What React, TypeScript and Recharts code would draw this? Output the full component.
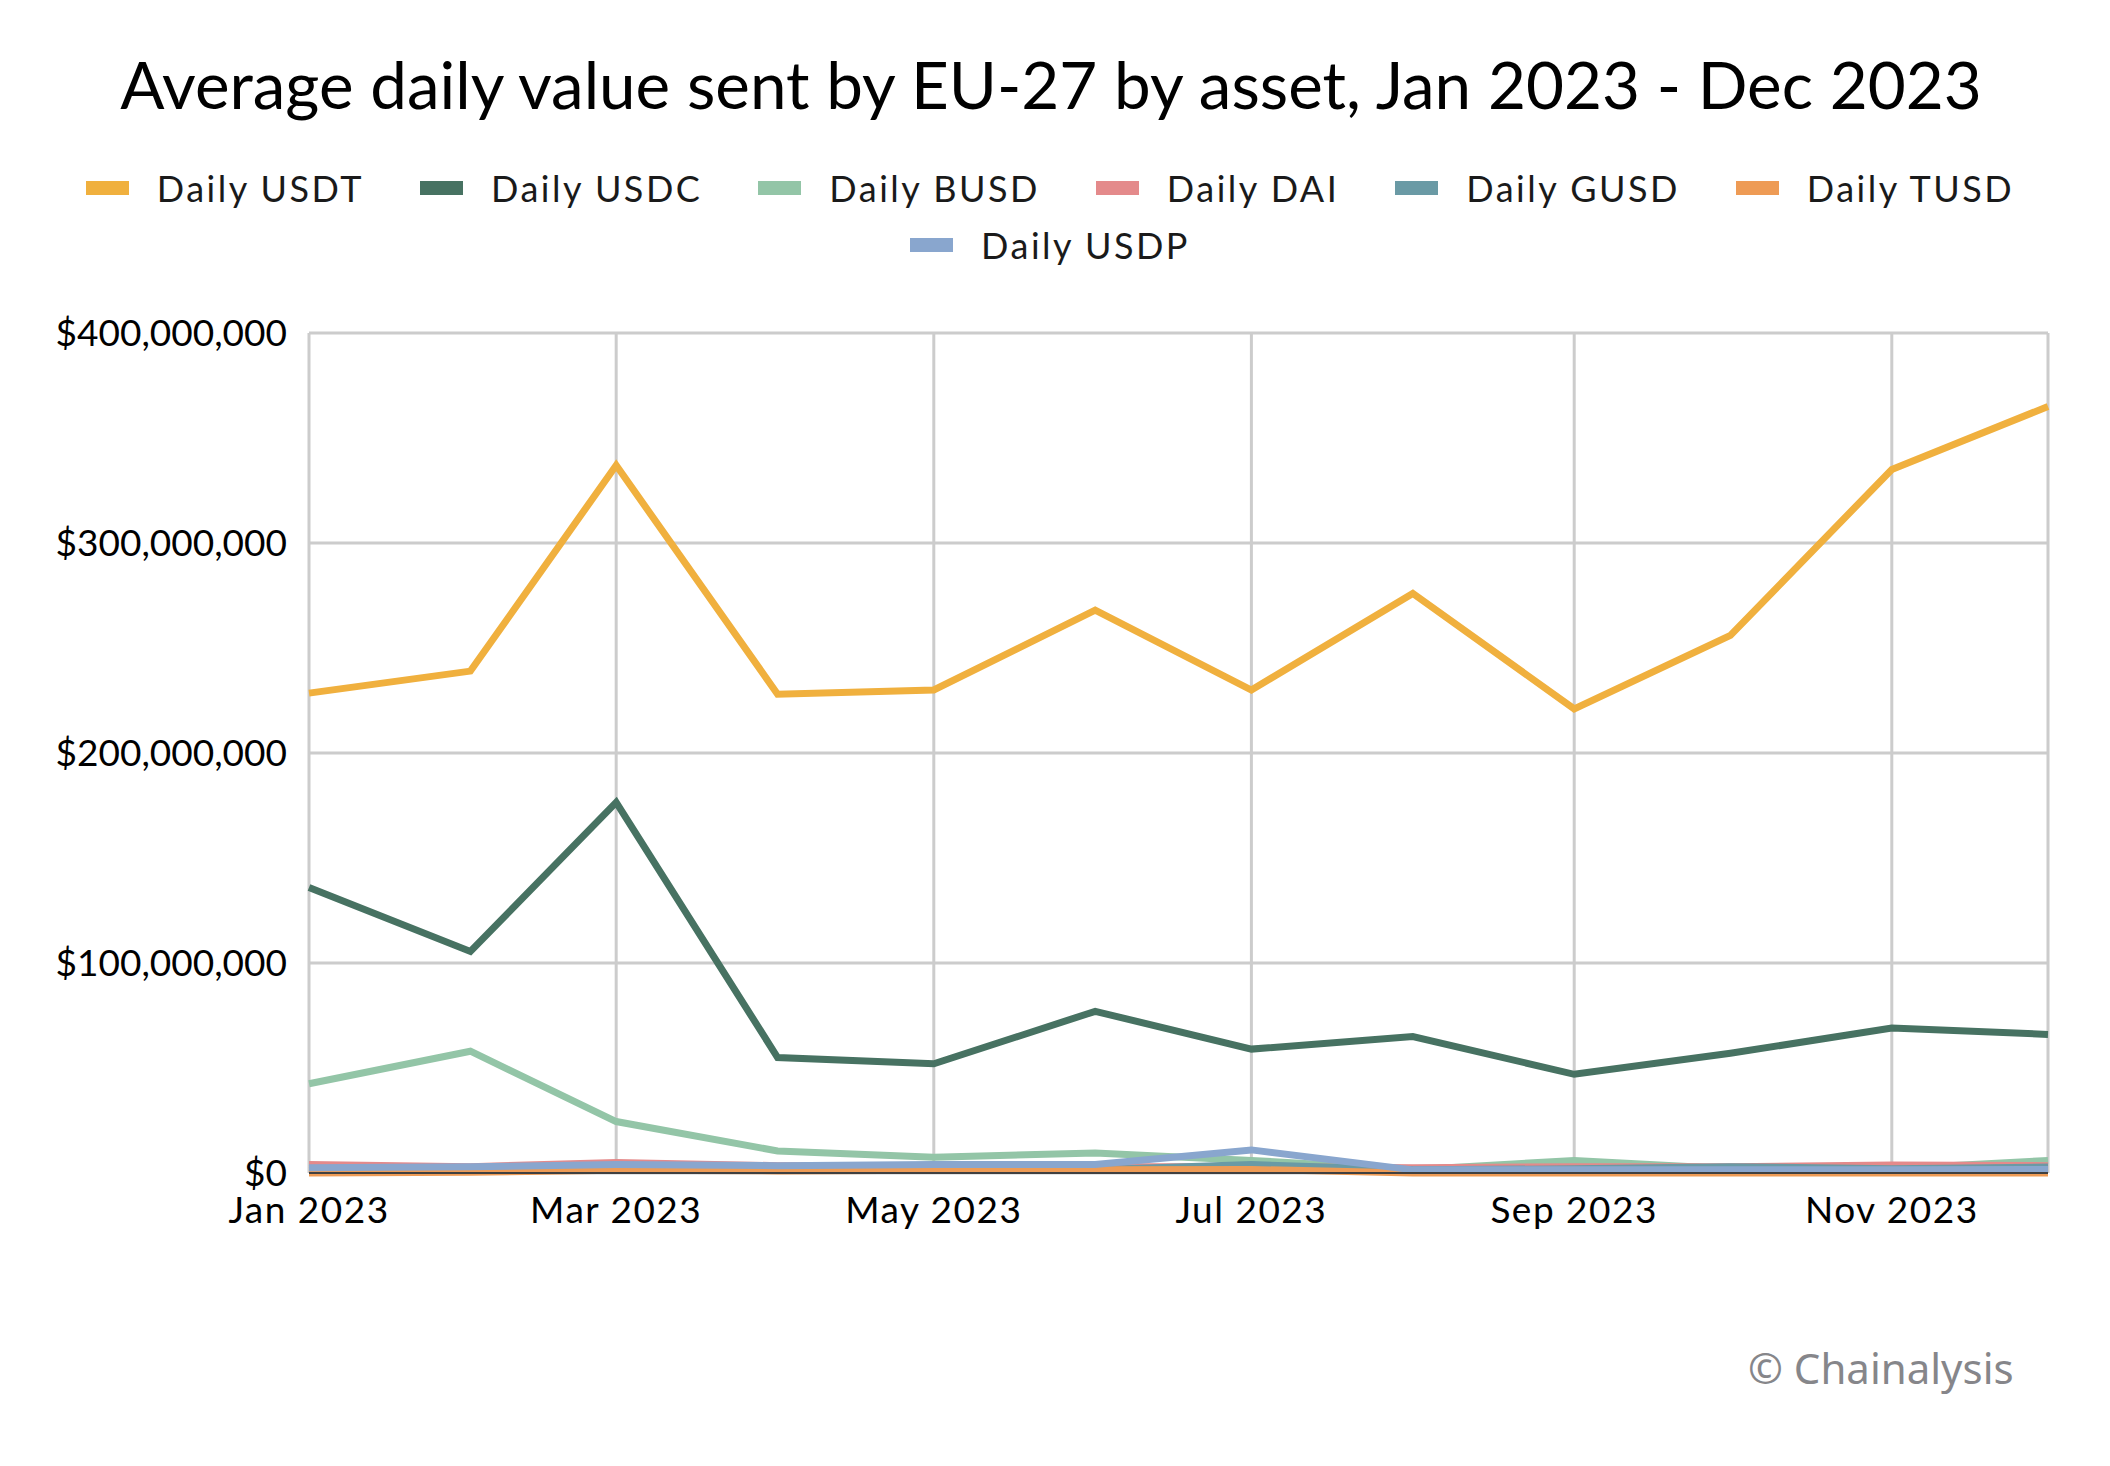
import { LineChart, Line, XAxis, YAxis, CartesianGrid } from "recharts";

// day-of-year at the start of each month (the x axis is a date axis)
const monthStartDays = [0, 31, 59, 90, 120, 151, 181, 212, 243, 273, 304, 334];
const xTickDays = [0, 59, 120, 181, 243, 304];
const xTickLabels = ["Jan 2023", "Mar 2023", "May 2023", "Jul 2023", "Sep 2023", "Nov 2023"];
const yTicks = [0, 100000000, 200000000, 300000000, 400000000];

// values in millions of USD
const usdtValues = [228.5, 239, 337, 228, 230, 268, 230, 276, 221, 256, 335, 365];
const usdcValues = [136, 105.5, 176.5, 55, 52, 77, 59, 65, 47, 57, 69, 66];
const busdValues = [42.5, 58, 24.5, 10.5, 7.5, 9.5, 6, 1.5, 6, 2, 2, 6];
const daiValues = [4, 3, 5, 3.5, 3.5, 3, 3, 2.5, 3, 3, 3.8, 3.5];
const gusdValues = [1.5, 1.5, 1.5, 1.5, 1.5, 1.5, 4, 1.5, 2, 3, 2, 2.8];
const tusdValues = [0, 0.3, 1.3, 1, 1.3, 1.5, 1.7, 0, 0, 0, 0, 0];
const usdpValues = [2.5, 3, 4, 3.5, 4, 4, 11, 1.5, 1.5, 1.5, 1.5, 1.7];

const series = [
  { key: "usdt", name: "Daily USDT", color: "#F0B03E", values: usdtValues },
  { key: "usdc", name: "Daily USDC", color: "#477262", values: usdcValues },
  { key: "busd", name: "Daily BUSD", color: "#93C5A7", values: busdValues },
  { key: "dai", name: "Daily DAI", color: "#E48A8B", values: daiValues },
  { key: "gusd", name: "Daily GUSD", color: "#6A9AA5", values: gusdValues },
  { key: "tusd", name: "Daily TUSD", color: "#EE9B55", values: tusdValues },
  { key: "usdp", name: "Daily USDP", color: "#89A6CE", values: usdpValues },
];

const chartData = monthStartDays.map((day, i) => {
  const row: Record<string, number> = { day };
  series.forEach((s) => {
    row[s.key] = s.values[i] * 1000000;
  });
  return row;
});

const legendRows = [series.slice(0, 6), series.slice(6)];

const formatDollar = (v: number) => "$" + v.toLocaleString("en-US");
const formatMonth = (d: number) => xTickLabels[xTickDays.indexOf(d)] ?? "";

function ChartLegend() {
  return (
    <div
      style={{
        position: "absolute",
        left: 0,
        top: 166,
        width: 2100,
        display: "flex",
        flexDirection: "column",
        rowGap: 13,
      }}
    >
      {legendRows.map((row, r) => (
        <div
          key={r}
          style={{ display: "flex", justifyContent: "center", columnGap: 56, height: 44 }}
        >
          {row.map((s) => (
            <div key={s.key} style={{ display: "flex", alignItems: "center" }}>
              <span
                style={{
                  display: "inline-block",
                  width: 43,
                  height: 14,
                  background: s.color,
                  marginRight: 28,
                }}
              />
              <span style={{ fontSize: 36, letterSpacing: 2.5, color: "#1a1a1a" }}>
                {s.name}
              </span>
            </div>
          ))}
        </div>
      ))}
    </div>
  );
}

export default function App() {
  return (
    <div
      style={{
        position: "absolute",
        left: 0,
        top: 0,
        width: 2110,
        height: 1466,
        background: "#fff",
        fontFamily: "Lato, 'Noto Sans', sans-serif",
      }}
    >
      <div
        style={{
          position: "absolute",
          left: 0,
          top: 42,
          width: 2102,
          textAlign: "center",
          fontSize: 65.5,
          lineHeight: "84px",
          color: "#000",
        }}
      >
        Average daily value sent by EU-27 by asset, Jan 2023 - Dec 2023
      </div>
      <ChartLegend />
      <LineChart
        width={2110}
        height={1466}
        data={chartData}
        margin={{ top: 333, right: 62, bottom: 213, left: 9 }}
      >
        <CartesianGrid stroke="#cccccc" strokeWidth={3} />
        <XAxis
          dataKey="day"
          type="number"
          domain={[0, 334]}
          ticks={xTickDays}
          interval={0}
          tickFormatter={formatMonth}
          height={80}
          tickLine={false}
          tickSize={0}
          tickMargin={24}
          axisLine={{ stroke: "#404040", strokeWidth: 2 }}
          tick={{ fontSize: 37, fill: "#000", letterSpacing: 1.5 }}
        />
        <YAxis
          domain={[0, 400000000]}
          ticks={yTicks}
          interval={0}
          tickFormatter={formatDollar}
          width={300}
          tickLine={false}
          tickSize={0}
          tickMargin={22}
          axisLine={false}
          tick={{ fontSize: 37, fill: "#000" }}
        />
        {series.map((s) => (
          <Line
            key={s.key}
            type="linear"
            dataKey={s.key}
            name={s.name}
            stroke={s.color}
            strokeWidth={7}
            dot={false}
            activeDot={false}
            isAnimationActive={false}
          />
        ))}
      </LineChart>
      <div
        style={{
          position: "absolute",
          left: 1748,
          top: 1340,
          fontSize: 42,
          lineHeight: "56px",
          color: "#86868a",
          fontFamily: "'Noto Sans', sans-serif",
        }}
      >
        © Chainalysis
      </div>
    </div>
  );
}
